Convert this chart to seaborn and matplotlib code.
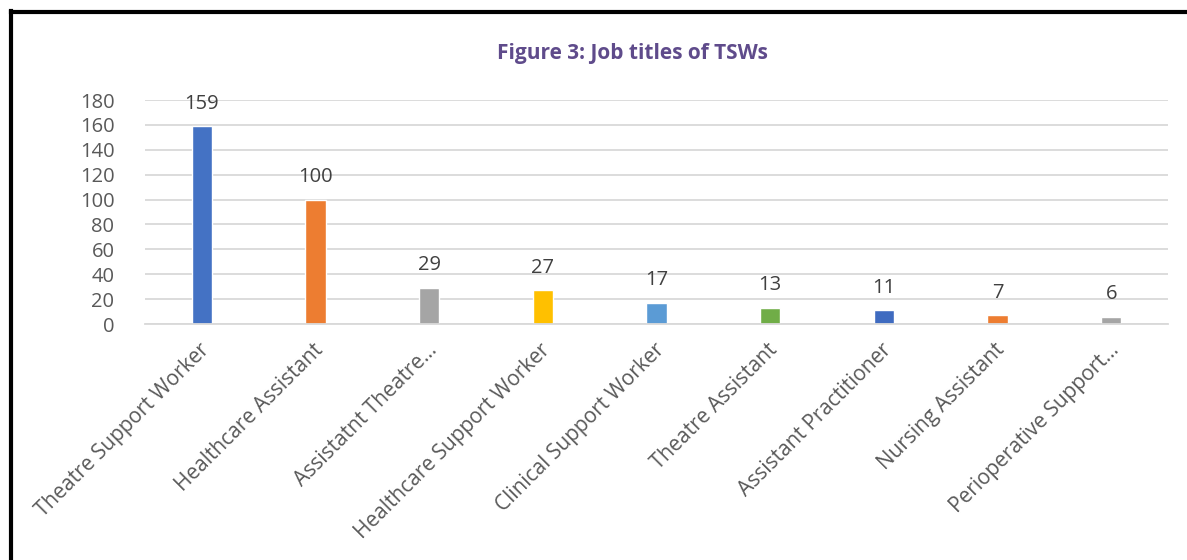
import matplotlib
matplotlib.use("Agg")
import matplotlib.pyplot as plt
import matplotlib.transforms as mtransforms
import seaborn as sns
import pandas as pd
from matplotlib.lines import Line2D

categories = ["Theatre Support Worker", "Healthcare Assistant", "Assistatnt Theatre...",
              "Healthcare Support Worker", "Clinical Support Worker", "Theatre Assistant",
              "Assistant Practitioner", "Nursing Assistant", "Perioperative Support..."]
counts = [159, 100, 29, 27, 17, 13, 11, 7, 6]
colors = ["#4472C4", "#ED7D31", "#A5A5A5", "#FFC000", "#5B9BD5", "#70AD47",
          "#3F6BC0", "#ED7D31", "#A5A5A5"]
yticks = [0, 20, 40, 60, 80, 100, 120, 140, 160, 180]
title = "Figure 3: Job titles of TSWs"

sns.set_theme(style="white")
plt.rcParams['font.family'] = ['Open Sans', 'DejaVu Sans']

df = pd.DataFrame({"cat": categories, "n": counts})

fig = plt.figure(figsize=(11.87, 5.6), dpi=100)
ax = fig.add_axes([145/1187, 1 - 324/560, (1168-145)/1187, 224/560])

sns.barplot(data=df, x="cat", y="n", hue="cat", palette=colors, legend=False,
            width=0.176, ax=ax, saturation=1)

ax.set_ylim(0, 180)
ax.set_yticks(yticks)
ax.set_xlim(-0.5, len(categories) - 0.5)
ax.yaxis.grid(True, color="#D9D9D9", linewidth=1.3)
ax.set_axisbelow(True)
for s in ["top", "right", "left"]:
    ax.spines[s].set_visible(False)
ax.spines["bottom"].set_color("#D9D9D9")
ax.spines["bottom"].set_linewidth(1.3)
ax.set_xlabel("")
ax.set_ylabel("")
ax.tick_params(axis="y", labelsize=14.5, colors="#595959", length=0, pad=22)
ax.tick_params(axis="x", labelsize=15, colors="#595959", length=0, pad=11)
plt.setp(ax.get_xticklabels(), rotation=45, ha="right", rotation_mode="anchor")
shift = mtransforms.ScaledTranslation(-3/100, 0, fig.dpi_scale_trans)
for lbl in ax.get_xticklabels():
    lbl.set_transform(lbl.get_transform() + shift)

for i, v in enumerate(counts):
    ax.annotate(str(v), (i, v), xytext=(0, 9), textcoords="offset points",
                ha="center", va="bottom", fontsize=14.5, color="#404040")

fig.text(632/1187, 1 - 53/560, title, ha="center", va="center",
         fontsize=15, fontweight="bold", color="#5F4B8B")

# border lines (left and top)
fig.add_artist(Line2D([11/1187, 11/1187], [0, 1 - 11/560], color="black", linewidth=3,
                      transform=fig.transFigure, solid_capstyle="projecting"))
fig.add_artist(Line2D([11/1187, 1], [1 - 12/560, 1 - 12/560], color="black", linewidth=3,
                      transform=fig.transFigure, solid_capstyle="projecting"))

fig.savefig("out.png", dpi=100)
